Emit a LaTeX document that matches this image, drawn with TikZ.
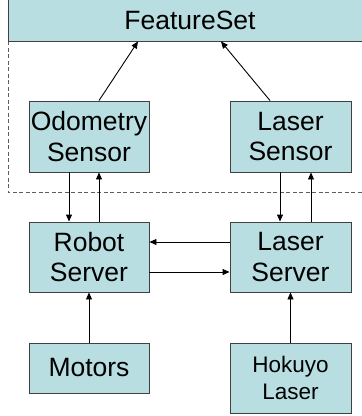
\documentclass[tikz,border=0pt]{standalone}
\usepackage{fontspec}
\setmainfont{Liberation Sans}
\usetikzlibrary{arrows.meta,calc}
\definecolor{boxfill}{RGB}{184,222,225}
\definecolor{boxline}{RGB}{64,64,64}
\tikzset{
  block/.style={draw=boxline, fill=boxfill, line width=0.9pt, inner sep=0pt,
    align=center, text=black, font=\fontsize{26.5}{30.5}\selectfont},
  arr/.style={line width=0.9pt, -{Triangle[length=7pt,width=6pt]}},
  grp/.style={draw=boxline!85, line width=1pt, dash pattern=on 4pt off 2.5pt}
}
\begin{document}
\begin{tikzpicture}[x=1pt,y=-1pt]
\useasboundingbox (0,0) rectangle (362,416);
% dashed group frame around the sensors
\draw[grp] (8,41) rectangle (380,192);
% blocks
\node[block, minimum width=364pt, minimum height=42pt] (fs) at (190,20) {FeatureSet};
\node[block, minimum width=120pt, minimum height=71pt] (odo) at (89,136.5) {Odometry\\Sensor};
\node[block, minimum width=121pt, minimum height=71pt] (lsen) at (290.5,136.5) {Laser\\Sensor};
\node[block, minimum width=120pt, minimum height=70pt] (rsrv) at (89,257) {Robot\\Server};
\node[block, minimum width=121pt, minimum height=70pt] (lsrv) at (290.5,257) {Laser\\Server};
\node[block, minimum width=120pt, minimum height=50pt] (mot) at (89,368) {Motors};
\node[block, minimum width=121pt, minimum height=70pt,
  font=\fontsize{22.5}{27}\selectfont] (hok) at (290.5,378) {Hokuyo\\Laser};
% sensors feed the feature set
\draw[arr] ([xshift=10pt]odo.north) -- ([xshift=-52pt]fs.south);
\draw[arr] ([xshift=-20.5pt]lsen.north) -- ([xshift=31pt]fs.south);
% sensor <-> server links
\draw[arr] ([xshift=-20pt]odo.south) -- ([xshift=-20pt]rsrv.north);
\draw[arr] ([xshift=10pt]rsrv.north) -- ([xshift=10pt]odo.south);
\draw[arr] ([xshift=-10.5pt]lsen.south) -- ([xshift=-10.5pt]lsrv.north);
\draw[arr] ([xshift=20.5pt]lsrv.north) -- ([xshift=20.5pt]lsen.south);
% server <-> server links
\draw[arr] ([yshift=15pt]lsrv.west) -- ([yshift=15pt]rsrv.east);
\draw[arr] ([yshift=-15pt]rsrv.east) -- ([yshift=-15pt]lsrv.west);
% hardware feeds the servers
\draw[arr] (mot.north) -- (rsrv.south);
\draw[arr] (hok.north) -- (lsrv.south);
\end{tikzpicture}
\end{document}
